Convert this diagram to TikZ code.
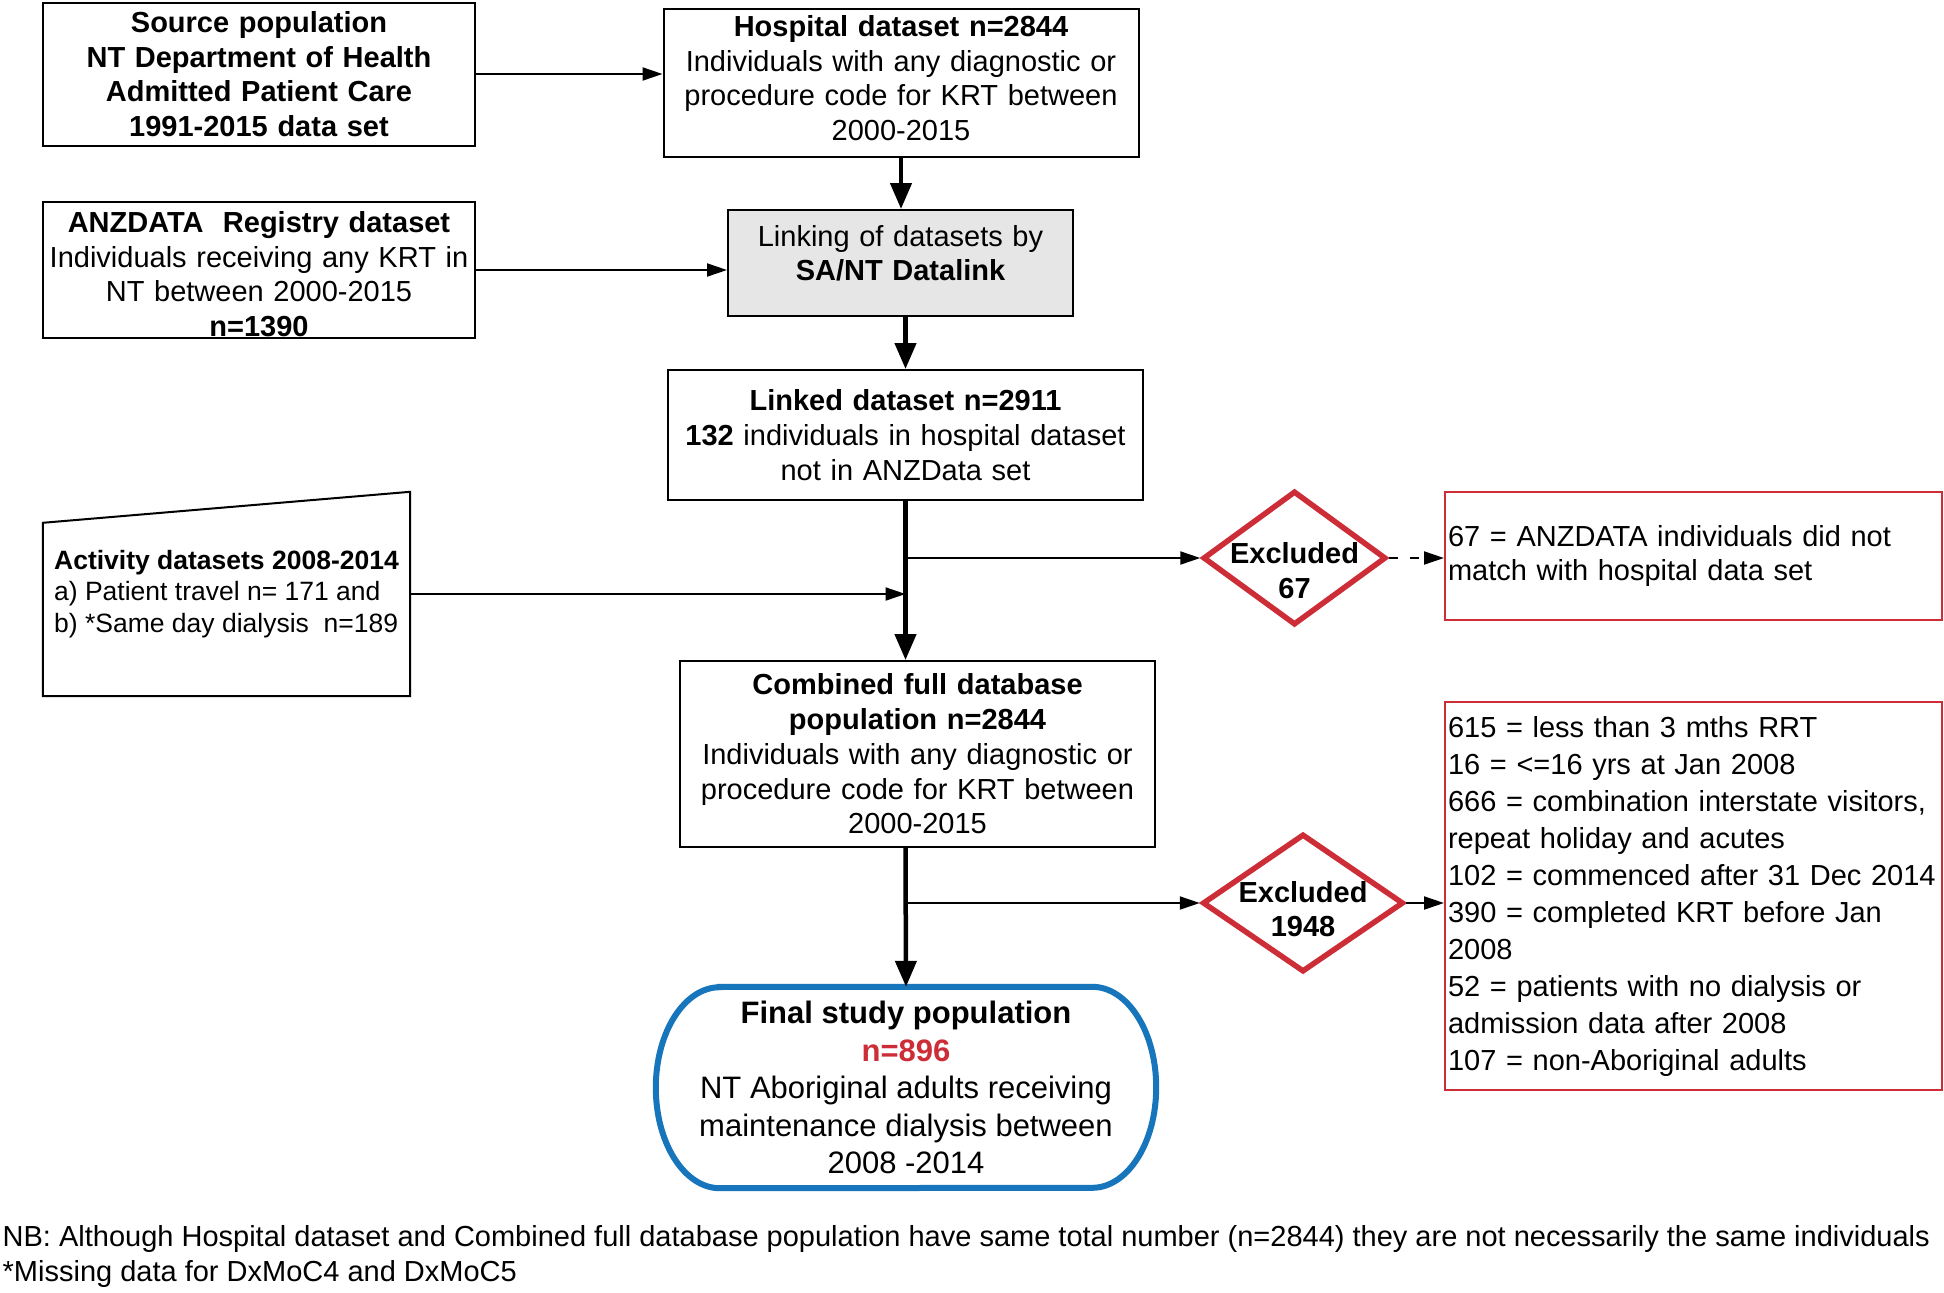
\documentclass[tikz,border=0pt]{standalone}
\usepackage{fontspec}
\setmainfont{Liberation Sans}
\usetikzlibrary{arrows.meta, positioning, shapes.geometric, calc}
\definecolor{exred}{RGB}{204, 45, 55}
\definecolor{finalblue}{RGB}{22, 117, 187}
\definecolor{linkgray}{RGB}{230, 230, 230}

\begin{document}
\begin{tikzpicture}[x=1pt, y=-1pt,
    box/.style={draw, line width=2pt, inner xsep=0pt, inner ysep=0pt, align=center, font=\fontsize{29}{34.7}\selectfont},
    notebox/.style={draw=exred, line width=2pt, inner xsep=3pt, inner ysep=0pt, align=left, text width=491pt, font=\fontsize{29}{37}\selectfont},
    exdiamond/.style={diamond, draw=exred, line width=5.5pt, minimum width=183pt, minimum height=134pt, inner sep=0pt},
    extext/.style={align=center, inner sep=0pt, font=\bfseries\fontsize{29}{34.7}\selectfont},
    thinarrow/.style={line width=2pt, -{Triangle[length=20pt, width=13pt]}},
    thickarrow/.style={line width=4.5pt, -{Triangle[length=26pt, width=21pt]}},
]
    \useasboundingbox (0,0) rectangle (1944,1293);

    % source datasets
    \node[box, text width=432pt, minimum height=143pt, font=\bfseries\fontsize{29}{34.7}\selectfont] (src) at (259,74)
        {Source population\\NT Department of Health\\Admitted Patient Care\\1991-2015 data set};
    \node[box, text width=475pt, minimum height=148pt, text height=22pt, text depth=115pt] (hosp) at (901,83)
        {\textbf{Hospital dataset n=2844}\\Individuals with any diagnostic or\\procedure code for KRT between\\2000-2015};
    \node[box, text width=432pt, minimum height=136pt, text height=22pt, text depth=97pt] (anz) at (259,270)
        {\textbf{ANZDATA\ \ Registry dataset}\\Individuals receiving any KRT in\\NT between 2000-2015\\\textbf{n=1390}};

    % linking
    \node[box, text width=345pt, minimum height=106pt, text height=22pt, text depth=56pt, fill=linkgray] (link) at (900.5,263)
        {Linking of datasets by\\\textbf{SA/NT Datalink}};
    \node[box, text width=475pt, minimum height=130pt] (linked) at (905.5,435)
        {\textbf{Linked dataset n=2911}\\\textbf{132} individuals in hospital dataset\\not in ANZData set};

    % activity datasets
    \node[minimum width=367pt, minimum height=204pt, inner sep=0pt, align=left, font=\fontsize{26.5}{31.8}\selectfont] (act) at (226.5,594)
        {\textbf{Activity datasets 2008-2014}\\a) Patient travel n= 171 and\\b) *Same day dialysis\ \ n=189};
    \draw[line width=2pt] ([yshift=-31pt]act.north west) -- (act.north east) -- (act.south east) -- (act.south west) -- cycle;

    % combined and final
    \node[box, text width=475pt, minimum height=186pt] (comb) at (917.5,754)
        {\textbf{Combined full database}\\\textbf{population n=2844}\\Individuals with any diagnostic or\\procedure code for KRT between\\2000-2015};
    \node[minimum width=500pt, minimum height=201pt, inner sep=0pt, align=center, font=\fontsize{31}{37.5}\selectfont] (final) at (906,1087.5)
        {\textbf{Final study population}\\\textcolor{exred}{\textbf{n=896}}\\NT Aboriginal adults receiving\\maintenance dialysis between\\2008 -2014};
    \draw[finalblue, line width=6pt] ([xshift=64pt]final.north west) -- ([xshift=-64pt]final.north east)
        arc[start angle=90, end angle=-90, x radius=64pt, y radius=100.5pt]
        -- ([xshift=64pt]final.south west)
        arc[start angle=270, end angle=90, x radius=64pt, y radius=100.5pt] -- cycle;

    % exclusions
    \node[exdiamond] (ex1) at (1294.5,558) {};
    \node[extext] (ex1t) at (1294.5,570.5) {Excluded\\67};
    \node[exdiamond, minimum width=201pt, minimum height=138pt] (ex2) at (1303,903) {};
    \node[extext] (ex2t) at (1303,909) {Excluded\\1948};

    \node[notebox, minimum height=128pt, font=\fontsize{29}{34.7}\selectfont] (note1) at (1693.5,556)
        {67 = ANZDATA individuals did not\\match with hospital data set};
    \node[notebox, minimum height=388pt] (note2) at (1693.5,896)
        {615 = less than 3 mths RRT\\16 = <=16 yrs at Jan 2008\\666 = combination interstate visitors,\\repeat holiday and acutes\\102 = commenced after 31 Dec 2014\\390 = completed KRT before Jan\\2008\\52 = patients with no dialysis or\\admission data after 2008\\107 = non-Aboriginal adults};

    % connectors
    \draw[thinarrow] (src) -- (src -| hosp.west);
    \draw[thinarrow] (anz) -- (anz -| link.west);
    \draw[thickarrow] (hosp.south) -- (hosp.south |- link.north);
    \draw[thickarrow] (linked.north |- link.south) -- (linked.north);
    \draw[thickarrow] (linked.south) -- (linked.south |- comb.north);
    \draw[thinarrow] (act.east) -- (act.east -| linked.south);
    \coordinate (j1) at (linked.south |- ex1.west);
    \draw[thinarrow] (j1) -- (ex1.west);
    \draw[thinarrow, dash pattern=on 9pt off 12pt] (ex1.east) -- (ex1.east -| note1.west);
    \draw[thickarrow] (linked.south |- comb.south) -- (final.north);
    \coordinate (j2) at (final.north |- ex2.west);
    \draw[thinarrow] (j2) -- (ex2.west);
    \draw[thinarrow] (ex2.east) -- (ex2.east -| note2.west);

    % footnote
    \node[anchor=west, align=left, inner sep=0pt, font=\fontsize{29}{34.7}\selectfont] (nb) at (2.5,1256.5)
        {NB: Although Hospital dataset and Combined full database population have same total number (n=2844) they are not necessarily the same individuals\\*Missing data for DxMoC4 and DxMoC5};
\end{tikzpicture}
\end{document}
